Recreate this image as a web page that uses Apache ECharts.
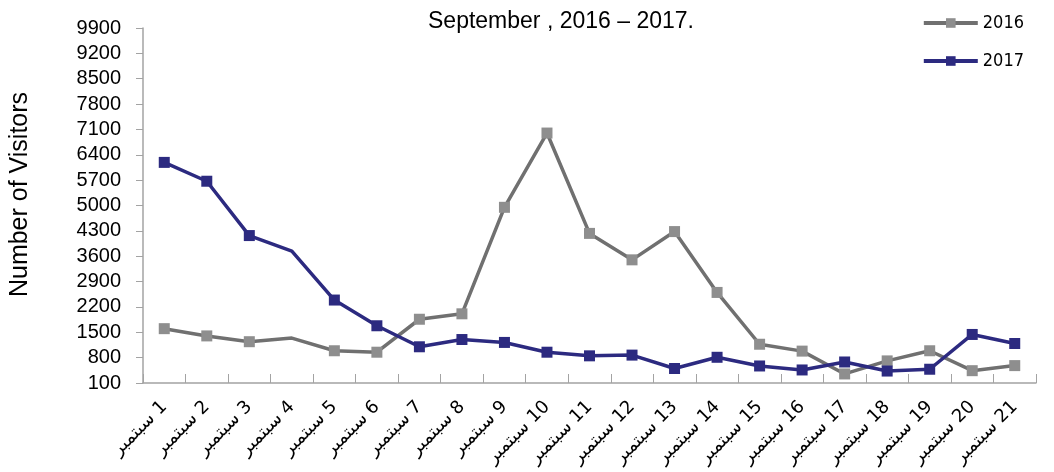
<!DOCTYPE html>
<html>
<head>
<meta charset="utf-8">
<title>Visitors September 2016 - 2017</title>
<script src="https://cdn.jsdelivr.net/npm/echarts@6/dist/echarts.min.js"></script>
<style>
  html, body { margin: 0; padding: 0; background: #fff; }
  #chart { width: 1054px; height: 472px; }
</style>
</head>
<body>
<div id="chart"></div>
<script>
// days of September
const days = ['سبتمبر 1', 'سبتمبر 2', 'سبتمبر 3', 'سبتمبر 4', 'سبتمبر 5', 'سبتمبر 6', 'سبتمبر 7',
  'سبتمبر 8', 'سبتمبر 9', 'سبتمبر 10', 'سبتمبر 11', 'سبتمبر 12', 'سبتمبر 13', 'سبتمبر 14',
  'سبتمبر 15', 'سبتمبر 16', 'سبتمبر 17', 'سبتمبر 18', 'سبتمبر 19', 'سبتمبر 20', 'سبتمبر 21']

const visitors2016 = [1600, 1400, 1240, 1340, 990, 950, 1860, 2010, 4950, 7000, 4230,
  3500, 4280, 2600, 1170, 980, 350, 710, 990, 440, 580]
const visitors2017 = [6190, 5670, 4170, 3740, 2390, 1680, 1100, 1300, 1220, 950, 850,
  870, 500, 810, 570, 460, 680, 430, 480, 1440, 1190]

const yTicks = [100, 800, 1500, 2200, 2900, 3600, 4300, 5000, 5700, 6400, 7100, 7800, 8500, 9200, 9900]

// no marker on the 4th in the original
const noMarkerDays = [3]

const chart = echarts.init(document.getElementById('chart'))

const makeData = (arr) => arr.map((v, i) => {
  if (noMarkerDays.includes(i)) {
    return { value: v, symbol: 'none' }
  }
  return v
})

const axisColor = '#a3a3a3'
const font = "'Liberation Sans', Arial, sans-serif"

const option = {
  animation: false,
  title: {
    text: 'September , 2016 – 2017.',
    left: 423,
    top: 5,
    textStyle: {
      color: '#000',
      fontSize: 23,
      fontWeight: 'normal',
      fontFamily: font
    }
  },
  legend: {
    orient: 'vertical',
    right: 25,
    top: 9,
    itemWidth: 54,
    itemHeight: 12,
    itemGap: 20,
    lineStyle: { width: 4 },
    textStyle: {
      color: '#000',
      fontSize: 18,
      fontFamily: "'Liberation Sans Narrow', 'DejaVu Sans Condensed', sans-serif"
    },
    data: ['2016', '2017']
  },
  grid: {
    left: 143,
    right: 18,
    top: 28,
    bottom: 89,
    containLabel: false
  },
  xAxis: {
    type: 'category',
    data: days,
    boundaryGap: true,
    axisLine: { lineStyle: { color: axisColor, width: 1.5 } },
    axisTick: { show: true, inside: true, length: 9, lineStyle: { color: axisColor } },
    axisLabel: {
      rotate: 45,
      interval: 0,
      margin: 21,
      color: '#000',
      fontSize: 18,
      fontFamily: "'Liberation Sans Narrow', 'DejaVu Sans', sans-serif",
      // keep the day number on the right, as in the original
      formatter: (v) => v.replace(' ', '\u200E ')
    },
    splitLine: { show: false }
  },
  yAxis: {
    type: 'value',
    min: 100,
    max: 9900,
    name: 'Number of Visitors',
    nameLocation: 'middle',
    nameGap: 110,
    nameTextStyle: {
      color: '#000',
      fontSize: 25,
      fontFamily: font,
      padding: [0, 0, 0, 22]
    },
    axisLine: { show: true, lineStyle: { color: axisColor, width: 1.5 } },
    axisTick: { show: true, length: 7, customValues: yTicks, lineStyle: { color: axisColor } },
    axisLabel: {
      customValues: yTicks,
      margin: 22,
      color: '#000',
      fontSize: 20,
      fontFamily: font,
      formatter: (v) => String(v)
    },
    splitLine: { show: false }
  },
  series: [
    {
      name: '2016',
      type: 'line',
      data: makeData(visitors2016),
      symbol: 'rect',
      symbolSize: 11,
      lineStyle: { color: '#707070', width: 3.5 },
      itemStyle: { color: '#8e8e8e' }
    },
    {
      name: '2017',
      type: 'line',
      data: makeData(visitors2017),
      symbol: 'rect',
      symbolSize: 11,
      lineStyle: { color: '#2c2a80', width: 3.5 },
      itemStyle: { color: '#2c2a80' }
    }
  ]
}

chart.setOption(option)
</script>
</body>
</html>
